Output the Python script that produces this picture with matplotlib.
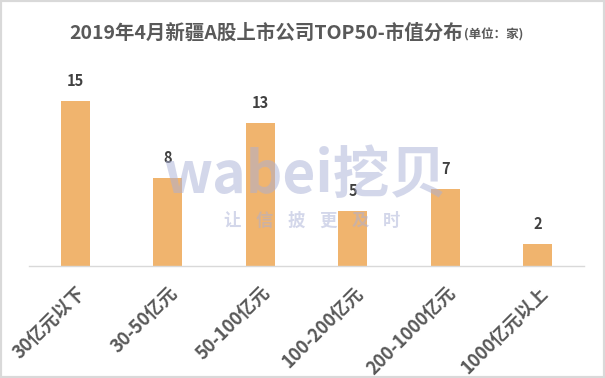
import matplotlib
matplotlib.use('Agg')
import matplotlib.pyplot as plt
from matplotlib.patches import Rectangle

plt.rcParams['font.family'] = ['Noto Sans CJK SC', 'DejaVu Sans']

categories = ['30亿元以下', '30-50亿元', '50-100亿元', '100-200亿元', '200-1000亿元', '1000亿元以上']
counts = [15, 8, 13, 5, 7, 2]
title = '2019年4月新疆A股上市公司TOP50-市值分布'
unit = '(单位：家)'
slogan = ['让', '信', '披', '更', '及', '时']

W, H = 605, 378
fig = plt.figure(figsize=(W / 100, H / 100), dpi=100)
ax = fig.add_axes([29 / W, 112 / H, 555 / W, 176 / H])

x = list(range(len(categories)))
ax.bar(x, counts, width=0.31, color='#F0B46E', zorder=2)
ax.set_xlim(-0.5, len(categories) - 0.5)
ax.set_ylim(0, 16)

for xi, v in zip(x, counts):
    ax.annotate(str(v), (xi, v), xytext=(0, 11), textcoords='offset points',
                ha='center', va='baseline', fontsize=10.5, fontweight='bold',
                color='#404040')

ax.set_xticks(x)
ax.set_xticklabels(categories, rotation=45, ha='right', va='top',
                   rotation_mode='anchor', fontsize=13, fontweight='bold',
                   color='#595959')
ax.tick_params(axis='x', length=0, pad=12)
ax.set_yticks([])
for s in ['top', 'right', 'left']:
    ax.spines[s].set_visible(False)
ax.spines['bottom'].set_color('#D9D9D9')
ax.spines['bottom'].set_linewidth(1)

fig.text(463 / W, 1 - 33 / H, title, ha='right', va='center', fontsize=14,
         fontweight='bold', color='#595959')
fig.text(464 / W, 1 - 35 / H, unit, ha='left', va='center', fontsize=9,
         fontweight='bold', color='#595959')

# watermark
fig.text(305 / W, 1 - 176 / H, 'wabei挖贝', ha='center', va='center', fontsize=41,
         fontweight='bold', color='#A9B0D6', alpha=0.5, zorder=5)
for i, ch in enumerate(slogan):
    fig.text((232 + i * 32) / W, 1 - 221 / H, ch, ha='center', va='center',
             fontsize=12.5, fontweight='bold', color='#A9B0D6', alpha=0.5, zorder=5)

fig.patches.append(Rectangle((0, 0), 1, 1, transform=fig.transFigure, fill=False,
                             edgecolor='#D9D9D9', linewidth=3))

fig.savefig('out.png', dpi=100)
